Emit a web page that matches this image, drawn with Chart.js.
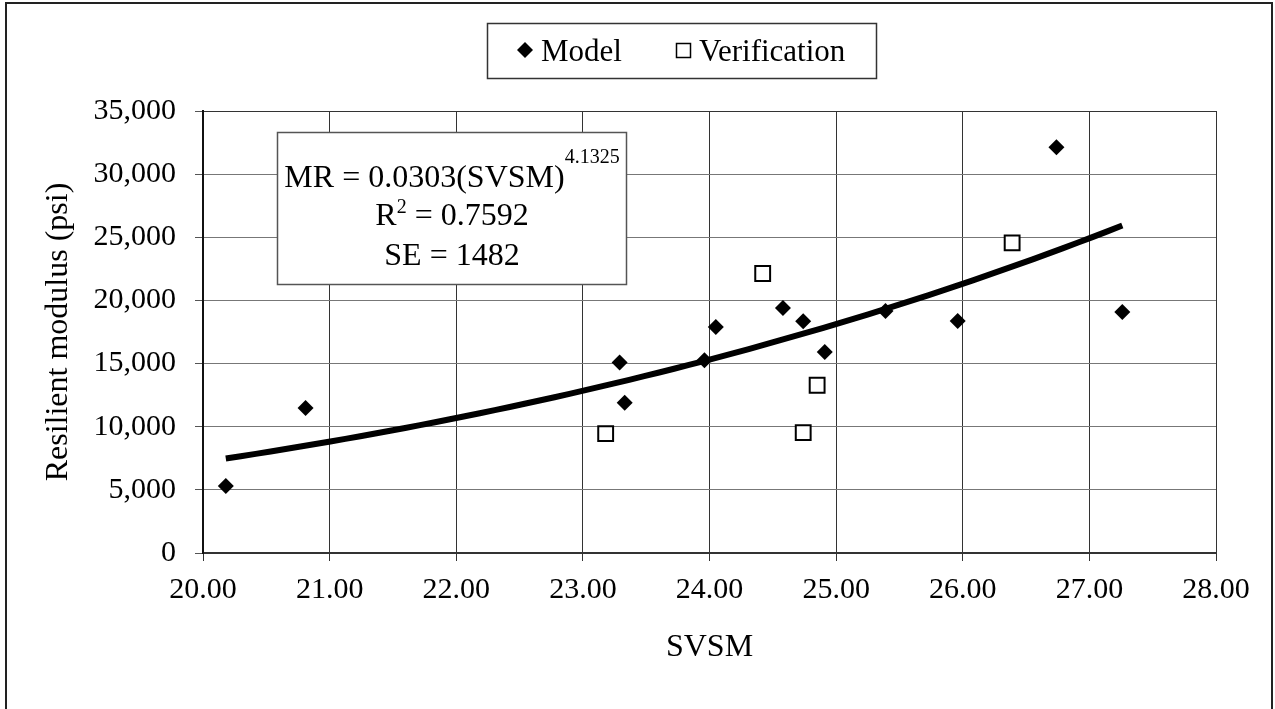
<!DOCTYPE html>
<html>
<head>
<meta charset="utf-8">
<title>Resilient modulus vs SVSM</title>
<script src="https://cdn.jsdelivr.net/npm/chart.js@4/dist/chart.umd.min.js"></script>
<style>
  html, body { margin: 0; padding: 0; background: #fff; }
  #chart { display: block; }
</style>
</head>
<body>
<canvas id="chart" width="1275" height="709"></canvas>
<script>
// Model data set (SVSM, resilient modulus in psi)
const modelSvsm = [20.18, 20.81, 23.29, 23.33, 23.96, 24.05, 24.58, 24.74, 24.91, 25.39, 25.96, 26.74, 27.26];
const modelMr   = [5300, 11480, 15080, 11900, 15260, 17900, 19400, 18350, 15920, 19170, 18380, 32120, 19090];

// Verification data set
const verifSvsm = [23.18, 24.42, 24.85, 24.74, 26.39];
const verifMr   = [9450, 22130, 13280, 9530, 24560];

// Power trend line MR = a * SVSM^b, as printed in the equation box
const trendCoef = 0.0303;
const trendExp = 4.1325;
const trendR2 = 0.7592;
const trendSE = 1482;
const trendFrom = 20.18;
const trendTo = 27.26;

// Axis ticks
const xTicks = [20, 21, 22, 23, 24, 25, 26, 27, 28];
const yTicks = [0, 5000, 10000, 15000, 20000, 25000, 30000, 35000];

const FONT = '"Liberation Serif", "Times New Roman", serif';
const TICK_SIZE = 30;
const TITLE_SIZE = 32;

function toPoints(xs, ys) {
    return xs.map((x, i) => ({ x: x, y: ys[i] }));
}

function trendPoints() {
    const pts = [];
    const steps = 60;
    for (let i = 0; i <= steps; i++) {
        const x = trendFrom + (trendTo - trendFrom) * i / steps;
        pts.push({ x: x, y: trendCoef * Math.pow(x, trendExp) });
    }
    return pts;
}

// Frame, legend box and equation box
const decorations = {
    id: 'decorations',
    afterDraw(chart) {
        const ctx = chart.ctx;
        ctx.save();

        // outer frame
        ctx.strokeStyle = '#222';
        ctx.lineWidth = 2;
        ctx.beginPath();
        ctx.moveTo(6, 709);
        ctx.lineTo(6, 3);
        ctx.lineTo(1272, 3);
        ctx.lineTo(1272, 709);
        ctx.stroke();

        // legend
        ctx.fillStyle = '#fff';
        ctx.fillRect(487.5, 23.5, 389, 55);
        ctx.strokeStyle = '#333';
        ctx.lineWidth = 1.5;
        ctx.strokeRect(487.5, 23.5, 389, 55);

        ctx.fillStyle = '#000';
        ctx.beginPath();
        ctx.moveTo(525, 42);
        ctx.lineTo(533, 50);
        ctx.lineTo(525, 58);
        ctx.lineTo(517, 50);
        ctx.closePath();
        ctx.fill();

        ctx.lineWidth = 1.5;
        ctx.strokeStyle = '#000';
        ctx.strokeRect(676.5, 43.5, 14, 14);

        ctx.font = '31px ' + FONT;
        ctx.textBaseline = 'alphabetic';
        ctx.textAlign = 'left';
        ctx.fillText('Model', 541, 61);
        ctx.fillText('Verification', 699, 61);

        // equation box
        const bx = 277.5, by = 132.5, bw = 349, bh = 152;
        ctx.fillStyle = '#fff';
        ctx.fillRect(bx, by, bw, bh);
        ctx.strokeStyle = '#555';
        ctx.lineWidth = 1.5;
        ctx.strokeRect(bx, by, bw, bh);

        const cx = bx + bw / 2;
        ctx.fillStyle = '#000';
        const supFont = '20px ' + FONT;
        const mainFont = '32px ' + FONT;

        function supLine(base, sup, tail, baseline, rise) {
            ctx.font = mainFont;
            const wBase = ctx.measureText(base).width;
            const wTail = ctx.measureText(tail).width;
            ctx.font = supFont;
            const wSup = ctx.measureText(sup).width;
            let x = cx - (wBase + wSup + wTail) / 2;
            ctx.textAlign = 'left';
            ctx.font = mainFont;
            ctx.fillText(base, x, baseline);
            x += wBase;
            ctx.font = supFont;
            ctx.fillText(sup, x, baseline - rise);
            x += wSup;
            ctx.font = mainFont;
            ctx.fillText(tail, x, baseline);
        }

        supLine('MR = ' + trendCoef.toFixed(4) + '(SVSM)', trendExp.toFixed(4), '', 187, 24);
        supLine('R', '2', ' = ' + trendR2.toFixed(4), 225, 12);
        ctx.font = mainFont;
        ctx.textAlign = 'center';
        ctx.fillText('SE = ' + trendSE, cx, 265);

        ctx.restore();
    }
};

const ctx = document.getElementById('chart').getContext('2d');

new Chart(ctx, {
    type: 'scatter',
    data: {
        datasets: [
            {
                label: 'Trend',
                data: trendPoints(),
                showLine: true,
                borderColor: '#000',
                borderWidth: 6,
                pointRadius: 0,
                tension: 0,
                order: 0
            },
            {
                label: 'Model',
                data: toPoints(modelSvsm, modelMr),
                pointStyle: 'rectRot',
                pointRadius: 8,
                backgroundColor: '#000',
                borderColor: '#000',
                borderWidth: 0,
                order: 1
            },
            {
                label: 'Verification',
                data: toPoints(verifSvsm, verifMr),
                pointStyle: 'rect',
                pointRadius: 10.5,
                backgroundColor: '#fff',
                borderColor: '#000',
                borderWidth: 2,
                order: 1
            }
        ]
    },
    options: {
        responsive: false,
        animation: false,
        layout: {
            padding: { top: 111, left: 10, right: 59, bottom: 10 }
        },
        plugins: {
            legend: { display: false },
            tooltip: { enabled: false }
        },
        scales: {
            x: {
                type: 'linear',
                min: xTicks[0],
                max: xTicks[xTicks.length - 1],
                afterBuildTicks(scale) {
                    scale.ticks = xTicks.map(v => ({ value: v }));
                },
                afterFit(scale) {
                    scale.height = 709 - 553 - 10;
                },
                ticks: {
                    color: '#000',
                    font: { family: FONT, size: TICK_SIZE },
                    padding: 11,
                    maxRotation: 0,
                    callback: v => v.toFixed(2)
                },
                grid: {
                    color: '#333',
                    lineWidth: 1,
                    tickLength: 8,
                    tickColor: '#333'
                },
                border: { color: '#333', width: 2 },
                title: {
                    display: true,
                    text: 'SVSM',
                    color: '#000',
                    font: { family: FONT, size: TITLE_SIZE },
                    padding: { top: 0, bottom: 32 }
                }
            },
            y: {
                type: 'linear',
                min: yTicks[0],
                max: yTicks[yTicks.length - 1],
                afterBuildTicks(scale) {
                    scale.ticks = yTicks.map(v => ({ value: v }));
                },
                afterFit(scale) {
                    scale.width = 203 - 10;
                },
                ticks: {
                    color: '#000',
                    font: { family: FONT, size: TICK_SIZE },
                    padding: 19,
                    callback: v => v.toLocaleString('en-US')
                },
                grid: {
                    color: ctx => ctx.tick && ctx.tick.value === yTicks[yTicks.length - 1] ? '#333' : '#777',
                    lineWidth: 1,
                    tickLength: 8,
                    tickColor: '#555'
                },
                border: { color: '#111', width: 2 },
                title: {
                    display: true,
                    text: 'Resilient modulus (psi)',
                    color: '#000',
                    font: { family: FONT, size: TITLE_SIZE },
                    padding: { top: 29, bottom: 0 }
                }
            }
        }
    },
    plugins: [decorations]
});
</script>
</body>
</html>
